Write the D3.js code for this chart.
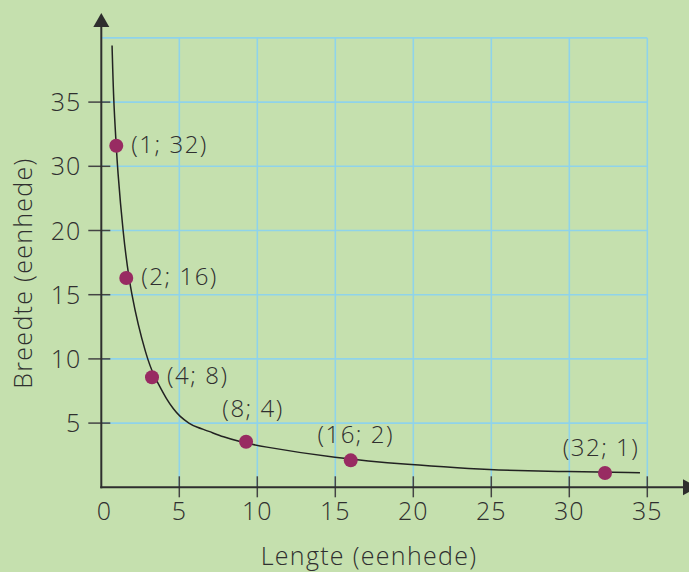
<!DOCTYPE html>
<html><head><meta charset="utf-8">
<script src="https://cdn.jsdelivr.net/npm/d3@7"></script>
<style>
html,body{margin:0;padding:0;background:#c5e0ae;}
svg{display:block;}
text{font-family:"Open Sans",Lato,sans-serif;font-weight:300;fill:#2f2f2f;}
</style></head><body>
<svg id="chart" width="689" height="572"></svg>
<script>
// ---- data ----
const xTicks = [0, 5, 10, 15, 20, 25, 30, 35];
const xTickLabels = ["0", "5", "10", "15", "20", "25", "30", "35"];
// the y axis in the picture is labelled 5,10,15,20,30,35 (no 25), evenly spaced
const yTicks = [0, 5, 10, 15, 20, 30, 35, 40];
const yTickLabels = ["", "5", "10", "15", "20", "30", "35", ""];
const pointX = [0.96, 1.60, 3.25, 9.28, 15.99, 32.29];
const pointY = [31.6, 16.3, 8.57, 3.55, 2.10, 1.11];
const pointLabels = ["(1; 32)", "(2; 16)", "(4; 8)", "(8; 4)", "(16; 2)", "(32; 1)"];
const labelPlace = ["right", "right", "right", "above", "above", "above"];
const curveX = [0.69, 0.79, 0.96, 1.03, 1.37, 1.88, 2.91, 3.45, 3.76, 4.19, 4.62, 5.0, 5.64, 6.12, 6.86, 7.82, 8.89, 9.96, 14.98, 19.96, 23.0, 24.98, 29.98, 34.53];
const curveY = [39.4, 35, 31.6, 30, 20, 15, 10, 8.5, 7.83, 6.85, 6.1, 5.55, 4.95, 4.68, 4.38, 3.92, 3.55, 3.24, 2.26, 1.74, 1.50, 1.35, 1.21, 1.14];
const xTitle = "Lengte (eenhede)";
const yTitle = "Breedte (eenhede)";

// ---- layout ----
const m = {left: 101.3, top: 37.9, right: 647.3, bottom: 487.3};
const svg = d3.select("#chart");
const x = d3.scaleLinear().domain([0, 35]).range([m.left, m.right]);
const step = (m.bottom - m.top) / (yTicks.length - 1);
const y = d3.scaleLinear().domain(yTicks).range(yTicks.map((d, i) => m.bottom - i * step));

const gridColor = "#8fd3ea";
const axisColor = "#2e2e2e";

// grid
const g = svg.append("g");
g.selectAll("line.vg").data(xTicks.slice(1)).enter().append("line")
  .attr("x1", d => x(d)).attr("x2", d => x(d))
  .attr("y1", m.top).attr("y2", m.bottom)
  .attr("stroke", gridColor).attr("stroke-width", 1.6);
g.selectAll("line.hg").data(yTicks.slice(1)).enter().append("line")
  .attr("x1", m.left).attr("x2", m.right)
  .attr("y1", d => y(d)).attr("y2", d => y(d))
  .attr("stroke", gridColor).attr("stroke-width", 1.6);

// ticks
svg.append("g").selectAll("line").data(xTicks.slice(1)).enter().append("line")
  .attr("x1", d => x(d)).attr("x2", d => x(d))
  .attr("y1", m.bottom - 11).attr("y2", m.bottom + 10)
  .attr("stroke", "#444").attr("stroke-width", 1.5);
svg.append("g").selectAll("line").data(yTicks.slice(1, -1)).enter().append("line")
  .attr("x1", m.left - 13).attr("x2", m.left + 9)
  .attr("y1", d => y(d)).attr("y2", d => y(d))
  .attr("stroke", "#444").attr("stroke-width", 1.5);

// tick labels
svg.append("g").selectAll("text").data(xTicks).enter().append("text")
  .attr("x", (d, i) => x(d) + (i === 0 ? 3 : 0)).attr("y", m.bottom + 33)
  .attr("text-anchor", "middle").attr("font-size", 25).attr("letter-spacing", 1)
  .text((d, i) => xTickLabels[i]);
svg.append("g").selectAll("text").data(yTicks).enter().append("text")
  .attr("x", m.left - 20).attr("y", d => y(d) + 9)
  .attr("text-anchor", "end").attr("font-size", 25).attr("letter-spacing", 1)
  .text((d, i) => yTickLabels[i]);

// axes with arrows
svg.append("line").attr("x1", m.left).attr("x2", m.left)
  .attr("y1", m.bottom + 1).attr("y2", 26)
  .attr("stroke", axisColor).attr("stroke-width", 2);
svg.append("line").attr("x1", m.left - 1).attr("x2", 684)
  .attr("y1", m.bottom).attr("y2", m.bottom)
  .attr("stroke", axisColor).attr("stroke-width", 2);
svg.append("path").attr("d", `M${m.left - 8},27 L${m.left},13 L${m.left + 8},27 Z`).attr("fill", axisColor);
svg.append("path").attr("d", `M683,${m.bottom - 8} L698,${m.bottom} L683,${m.bottom + 8} Z`).attr("fill", axisColor);

// curve
const line = d3.line().x(d => x(d[0])).y(d => y(d[1])).curve(d3.curveBasis);
svg.append("path").datum(curveX.map((v, i) => [v, curveY[i]]))
  .attr("d", line).attr("fill", "none").attr("stroke", "#222").attr("stroke-width", 1.5);

// points
svg.append("g").selectAll("circle").data(pointX).enter().append("circle")
  .attr("cx", d => x(d)).attr("cy", (d, i) => y(pointY[i])).attr("r", 7)
  .attr("fill", "#982b62");

// point labels
svg.append("g").selectAll("text").data(pointX).enter().append("text")
  .attr("font-size", 24).attr("letter-spacing", 1.5)
  .attr("x", (d, i) => labelPlace[i] === "right" ? x(d) + 15 : x(d) + (i === 3 ? 7 : i === 4 ? 5 : -4))
  .attr("y", (d, i) => labelPlace[i] === "right" ? y(pointY[i]) + 7 : y(pointY[i]) - (i === 3 ? 25 : 17))
  .attr("text-anchor", (d, i) => labelPlace[i] === "right" ? "start" : "middle")
  .text((d, i) => pointLabels[i]);

// axis titles
svg.append("text").attr("x", 369).attr("y", 565).attr("text-anchor", "middle")
  .attr("font-size", 25).attr("letter-spacing", 1.3).text(xTitle);
svg.append("text").attr("transform", "translate(32,273) rotate(-90)")
  .attr("text-anchor", "middle").attr("font-size", 25).attr("letter-spacing", 1.3).text(yTitle);
</script>
</body></html>
